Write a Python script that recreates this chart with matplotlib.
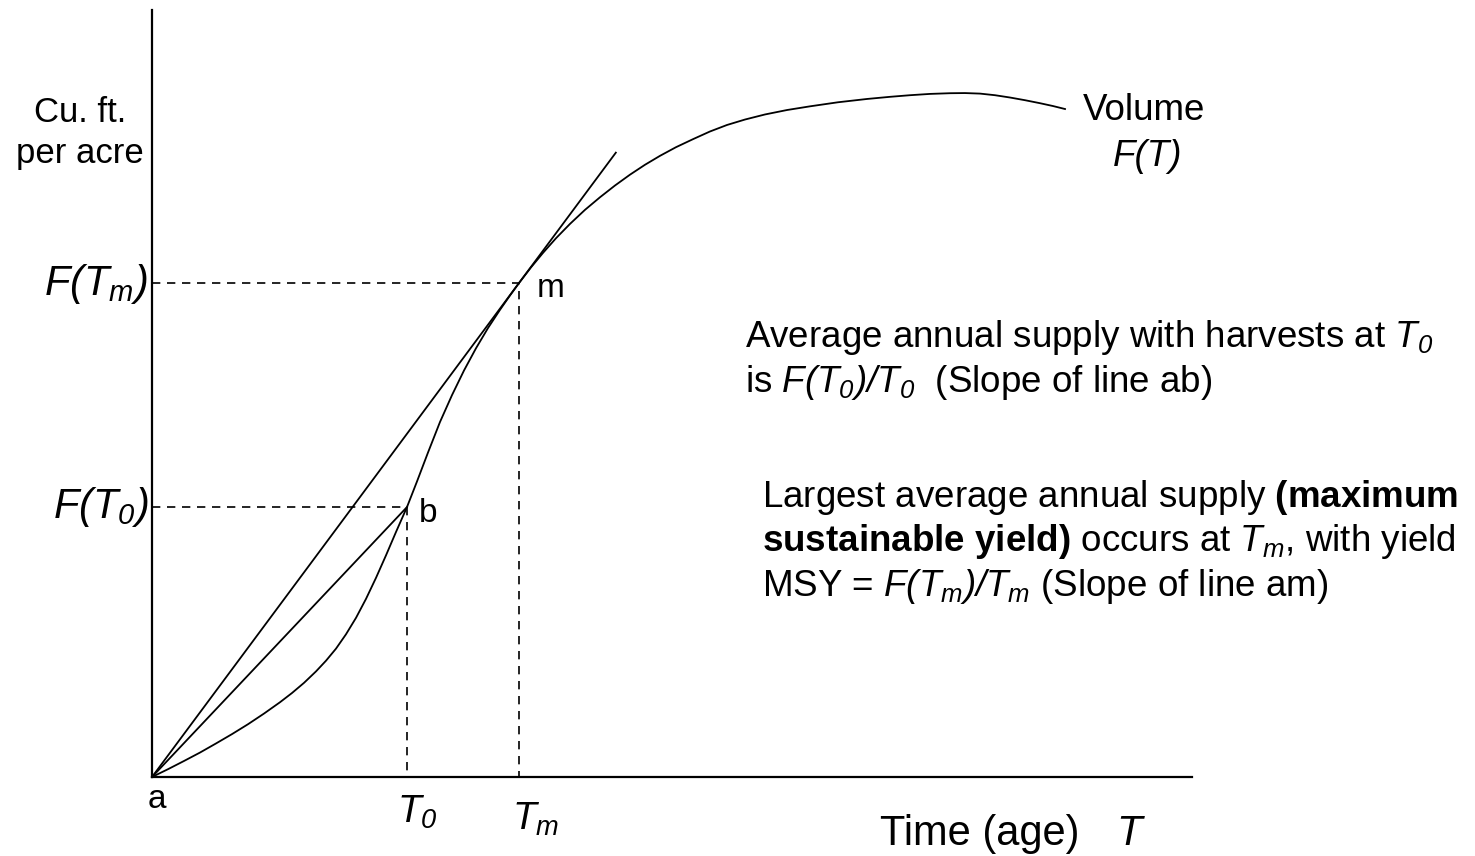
import numpy as np
import matplotlib
matplotlib.use('Agg')
import matplotlib.pyplot as plt

#------------------------------------------------------DATA------------------------------------------------------------
# age T (0-100 along the time axis) and volume F(T) (0-100 along the vertical axis)
edad=[0,1.54,3.08,4.62,6.15,7.69,9.23,10.77,12.31,13.46,14.62,15.77,16.73,17.69,18.65,19.62,20.58,21.54,22.50,23.46,
      24.52,25.48,26.54,27.69,28.85,30.00,31.15,32.31,33.46,34.42,35.29,36.44,37.60,38.85,40.19,41.63,43.08,44.52,
      45.96,47.40,48.85,50.38,52.02,53.65,55.29,57.02,58.94,61.06,63.27,65.96,68.75,70.96,72.88,74.81,76.73,78.17,
      79.62,81.06,82.50,83.94,85.38,86.63,87.79]
volumen=[0,1.02,2.09,3.19,4.37,5.59,6.88,8.27,9.75,10.95,12.28,13.77,15.16,16.73,18.60,20.76,23.23,25.97,28.90,31.94,
         35.20,38.53,42.31,46.28,49.80,53.00,55.89,58.54,60.91,62.78,64.41,66.44,68.34,70.25,72.11,73.94,75.59,77.12,
         78.53,79.82,80.99,82.11,83.16,84.16,85.01,85.72,86.38,86.96,87.44,87.97,88.40,88.68,88.89,89.06,89.15,89.17,
         89.10,88.89,88.59,88.24,87.85,87.48,87.09]
T0,FT0=24.52,35.20          # point b
Tm,FTm=35.29,64.41          # point m
fin_tangente=44.6           # where the line am stops

#------------------------------------------------------FONTS-----------------------------------------------------------
plt.rcParams['font.family']='Liberation Sans'
plt.rcParams['mathtext.fontset']='custom'
plt.rcParams['mathtext.rm']='Liberation Sans:italic'
plt.rcParams['mathtext.it']='Liberation Sans:italic'
plt.rcParams['mathtext.bf']='Liberation Sans:bold'

W,H=1475,856
fig=plt.figure(figsize=(W/100,H/100),dpi=100)
ax=fig.add_axes([152/W,(H-777)/H,1040/W,767/H])

def px(x,y):
    return x/W,1-y/H

#------------------------------------------------------LINES-----------------------------------------------------------
ax.plot(edad,volumen,color='k',linewidth=1.3,clip_on=False,solid_joinstyle='round')
ax.plot([0,T0],[0,FT0],color='k',linewidth=1.3)
pend=FTm/Tm
ax.plot([0,fin_tangente],[0,pend*fin_tangente],color='k',linewidth=1.3,clip_on=False)
ax.plot([0,T0,T0],[FT0,FT0,0],color='k',linewidth=1.2,dashes=(5,4))
ax.plot([0,Tm,Tm],[FTm,FTm,0],color='k',linewidth=1.2,dashes=(5,4))

ax.set_xlim(0,100)
ax.set_ylim(0,100)
ax.spines['top'].set_visible(False)
ax.spines['right'].set_visible(False)
ax.spines['left'].set_linewidth(1.6)
ax.spines['bottom'].set_linewidth(1.6)
ax.set_xticks([])
ax.set_yticks([])

#------------------------------------------------------TEXT------------------------------------------------------------
fig.text(*px(80,122),'Cu. ft.',ha='center',va='baseline',fontsize=25)
fig.text(*px(80,163),'per acre',ha='center',va='baseline',fontsize=25)
fig.text(*px(148,295),r'$F(T_m)$',ha='right',va='baseline',fontsize=30)
fig.text(*px(148,518),r'$F(T_0)$',ha='right',va='baseline',fontsize=30)

fig.text(*px(148,808),'a',ha='left',va='baseline',fontsize=24)
fig.text(*px(419,522),'b',ha='left',va='baseline',fontsize=24)
fig.text(*px(537,297),'m',ha='left',va='baseline',fontsize=24)

fig.text(*px(397,823),r'$T_0$',ha='left',va='baseline',fontsize=28)
fig.text(*px(512,830),r'$T_m$',ha='left',va='baseline',fontsize=28)
fig.text(*px(880,845),'Time (age)',ha='left',va='baseline',fontsize=30)
fig.text(*px(1116,845),'T',ha='left',va='baseline',fontsize=30,style='italic')

fig.text(*px(1144,120),'Volume',ha='center',va='baseline',fontsize=26.5)
fig.text(*px(1148,166),'F(T)',ha='center',va='baseline',fontsize=26.5,style='italic')

fig.text(*px(745,347),r'Average annual supply with harvests at $T_0$',ha='left',va='baseline',fontsize=26.5)
fig.text(*px(745,392),r'is $F(T_0)/T_0$  (Slope of line ab)',ha='left',va='baseline',fontsize=26.5)

fig.text(*px(762,507),r'Largest average annual supply $\mathbf{(maximum}$',ha='left',va='baseline',fontsize=26.5)
fig.text(*px(762,551),r'$\mathbf{sustainable\ yield)}$ occurs at $T_m$, with yield',ha='left',va='baseline',fontsize=26.5)
fig.text(*px(762,596),r'MSY = $F(T_m)/T_m$ (Slope of line am)',ha='left',va='baseline',fontsize=26.5)

plt.savefig('out.png',dpi=100)
